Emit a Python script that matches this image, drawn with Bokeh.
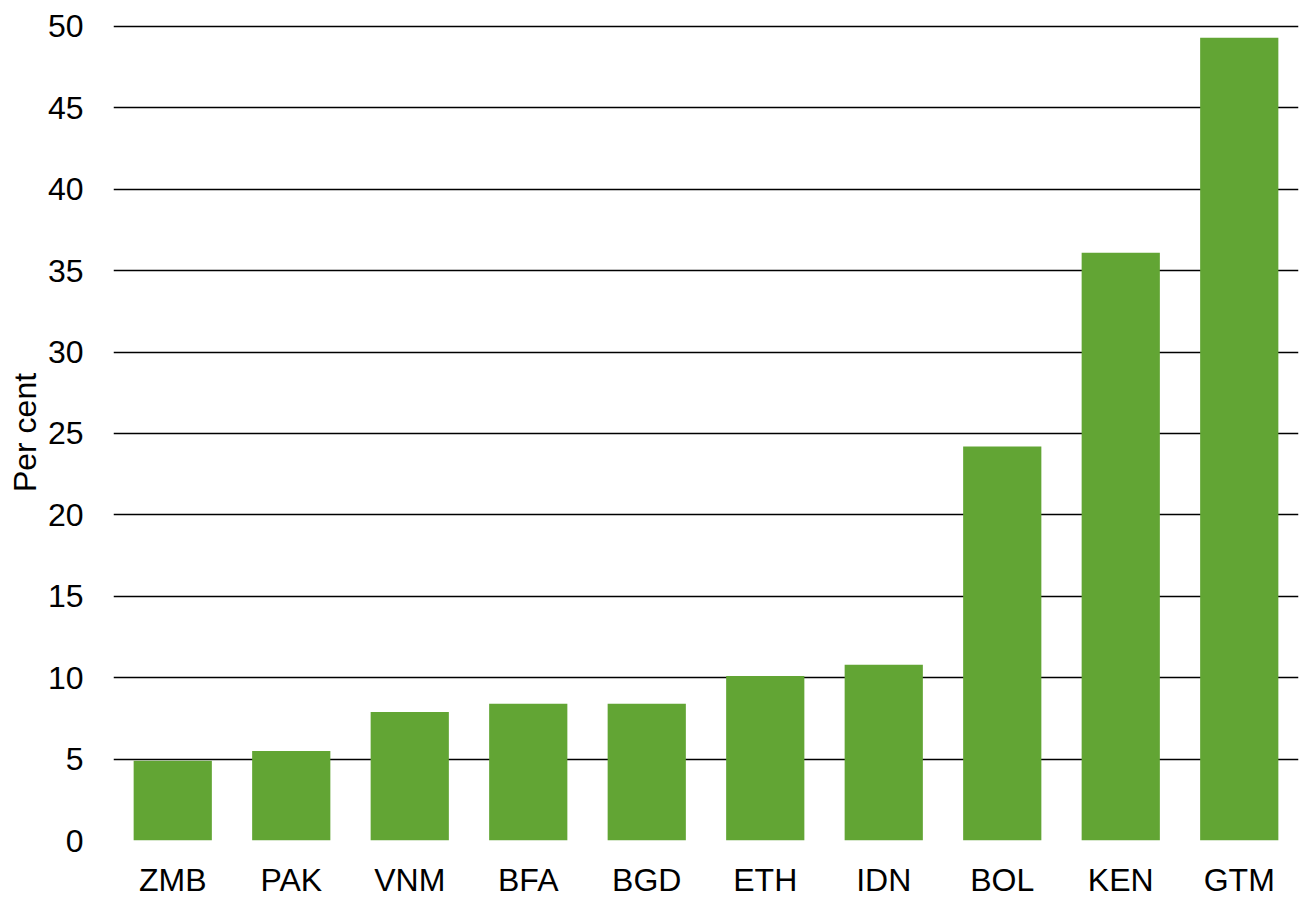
from bokeh.plotting import figure
from bokeh.models import Range1d, FixedTicker, ColumnDataSource
from bokeh.embed import file_html
from bokeh.resources import INLINE

# Country codes and their shares (percent)
countries = ["ZMB", "PAK", "VNM", "BFA", "BGD", "ETH", "IDN", "BOL", "KEN", "GTM"]
percent = [4.9, 5.5, 7.9, 8.4, 8.4, 10.1, 10.8, 24.2, 36.1, 49.3]
y_ticks = [0, 5, 10, 15, 20, 25, 30, 35, 40, 45, 50]

FONT = "Liberation Sans"
FONT_SIZE = "32px"

source = ColumnDataSource(data=dict(country=countries, percent=percent))

# A touch of headroom above 50 so the top grid line is not clipped
p = figure(
    x_range=countries,
    y_range=Range1d(0, 50.12),
    frame_width=1185,
    frame_height=816,
    min_border_left=113,
    min_border_right=8,
    min_border_top=24,
    min_border_bottom=57,
    output_backend="svg",
    toolbar_location=None,
    tools="",
)

p.vbar(x="country", top="percent", width=0.66, source=source,
       fill_color="#62a534", line_color=None)

p.outline_line_color = None
p.background_fill_color = "white"
p.border_fill_color = "white"

# Horizontal grid every 5 percent
p.yaxis.ticker = FixedTicker(ticks=y_ticks)
p.ygrid.grid_line_color = "black"
p.ygrid.grid_line_width = 1.6
p.xgrid.grid_line_color = None

for ax in (p.xaxis, p.yaxis):
    ax.axis_line_color = None
    ax.major_tick_line_color = None
    ax.minor_tick_line_color = None
    ax.major_tick_out = 0
    ax.major_tick_in = 0
    ax.minor_tick_out = 0
    ax.major_label_text_font = FONT
    ax.major_label_text_font_size = FONT_SIZE
    ax.major_label_text_color = "black"

p.yaxis.major_label_standoff = 30
p.xaxis.major_label_standoff = 21

p.yaxis.axis_label = "Per cent"
p.yaxis.axis_label_text_font = FONT
p.yaxis.axis_label_text_font_size = FONT_SIZE
p.yaxis.axis_label_text_font_style = "normal"
p.yaxis.axis_label_text_color = "black"
p.yaxis.axis_label_standoff = 2

open("out.html", "w").write(file_html(p, INLINE))
